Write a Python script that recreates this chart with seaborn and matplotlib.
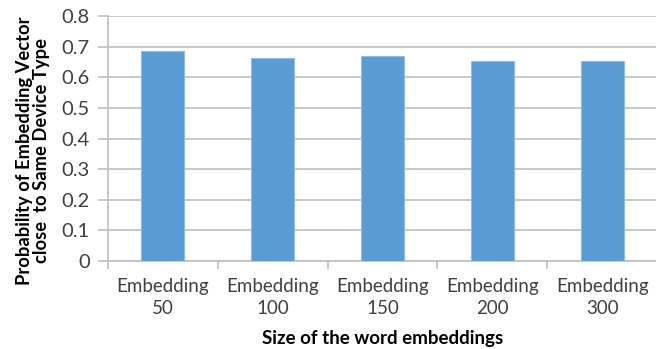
import matplotlib
matplotlib.use("Agg")
import matplotlib.pyplot as plt
import seaborn as sns
import pandas as pd
import numpy as np

categories = ["Embedding\n50", "Embedding\n100", "Embedding\n150", "Embedding\n200", "Embedding\n300"]
probabilities = [0.686, 0.663, 0.671, 0.653, 0.653]
y_ticks = [0, 0.1, 0.2, 0.3, 0.4, 0.5, 0.6, 0.7, 0.8]
y_tick_labels = ["0", "0.1", "0.2", "0.3", "0.4", "0.5", "0.6", "0.7", "0.8"]

sns.set_theme(style="white")
plt.rcParams["font.family"] = ["Lato", "DejaVu Sans"]

df = pd.DataFrame({"size": categories, "prob": probabilities})

fig = plt.figure(figsize=(6.56, 3.49), dpi=100)
ax = fig.add_axes([0.1646, 0.252, 0.837, 0.702])

sns.barplot(data=df, x="size", y="prob", color="#5b9bd5", width=0.39,
            saturation=1, ax=ax, zorder=3, edgecolor="#8fbbe6", linewidth=0.8)

grid_c = "#bfbfbf"
ax.set_ylim(0, 0.8)
ax.set_xlim(-0.5, len(categories) - 0.5)
ax.set_yticks(y_ticks)
ax.set_yticklabels(y_tick_labels)
ax.yaxis.grid(True, color=grid_c, linewidth=1.2, zorder=0)
ax.set_axisbelow(True)

for s in ["top", "right"]:
    ax.spines[s].set_visible(False)
for s in ["left", "bottom"]:
    ax.spines[s].set_color(grid_c)
    ax.spines[s].set_linewidth(1.2)

# category boundary ticks on the x axis
ax.set_xticks(np.arange(len(categories)))
ax.set_xticklabels(categories, fontsize=13.5, color="#404040", linespacing=1.38)
ax.set_xticks(np.arange(len(categories) + 1) - 0.5, minor=True)
ax.tick_params(axis="x", which="major", length=0, pad=12)
ax.tick_params(axis="x", which="minor", length=6, width=1.2, color=grid_c, direction="out", bottom=True)
ax.tick_params(axis="y", length=7, width=1.2, color=grid_c, direction="out", left=True,
               labelsize=14.5, labelcolor="#404040", pad=6)

ax.set_xlabel("Size of the word embeddings", fontsize=13.5, fontweight="bold", color="black", labelpad=9.5)
ax.set_ylabel("Probability of Embedding Vector\nclose  to Same Device Type", fontsize=13.2,
              fontweight="bold", color="black", linespacing=1.05)
ax.yaxis.set_label_coords(-0.105, 0.45)

fig.savefig("out.png", dpi=100)
